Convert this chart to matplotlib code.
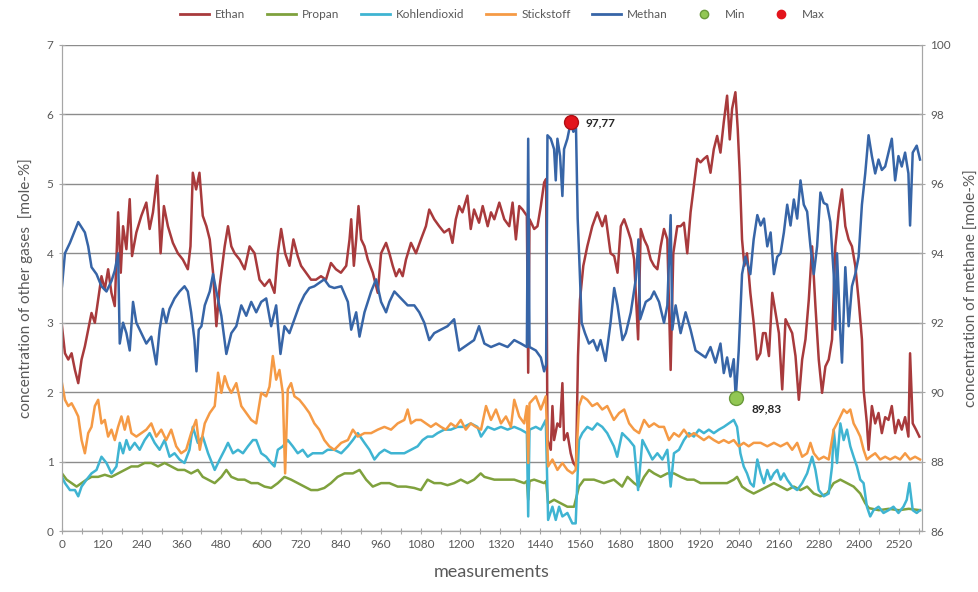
import matplotlib
matplotlib.use("Agg")
import matplotlib.pyplot as plt
from matplotlib.ticker import MultipleLocator, FuncFormatter
from matplotlib.lines import Line2D

plt.rcParams["font.family"] = ["Lato", "DejaVu Sans"]

methan_x = [0, 9, 24, 49, 69, 79, 89, 104, 119, 134, 149, 159, 169, 174, 184, 194, 204, 214, 224, 239,
            254, 269, 284, 294, 304, 314, 324, 339, 354, 369, 379, 389, 399, 405, 412, 420, 430, 445, 455, 465,
            480, 495, 510, 525, 540, 555, 570, 585, 600, 615, 630, 645, 658, 670, 685, 700, 715, 730, 745, 760,
            775, 790, 805, 820, 841, 861, 871, 886, 896, 911, 931, 946, 961, 976, 986, 1001, 1021, 1041, 1061, 1076,
            1091, 1106, 1121, 1141, 1161, 1181, 1196, 1211, 1226, 1241, 1256, 1272, 1292, 1317, 1342, 1362, 1382, 1400, 1404, 1408,
            1427, 1442, 1452, 1458, 1462, 1472, 1482, 1487, 1492, 1500, 1507, 1512, 1522, 1532, 1540, 1548, 1553, 1558, 1565, 1575,
            1587, 1600, 1612, 1622, 1637, 1652, 1663, 1673, 1688, 1698, 1713, 1728, 1736, 1741, 1758, 1773, 1783, 1798, 1813, 1823,
            1833, 1838, 1848, 1863, 1878, 1893, 1908, 1923, 1938, 1953, 1968, 1983, 1993, 2003, 2013, 2023, 2029, 2038, 2048, 2058,
            2073, 2083, 2094, 2104, 2114, 2124, 2134, 2144, 2154, 2164, 2174, 2184, 2194, 2204, 2214, 2224, 2234, 2244, 2254, 2264,
            2274, 2284, 2294, 2304, 2314, 2324, 2329, 2334, 2344, 2349, 2359, 2369, 2379, 2389, 2399, 2409, 2419, 2429, 2439, 2449,
            2459, 2469, 2479, 2489, 2499, 2509, 2519, 2529, 2539, 2549, 2554, 2562, 2574, 2584]
methan = [93.05, 94.0, 94.3, 94.9, 94.6, 94.2, 93.6, 93.4, 93.05, 92.9, 93.2, 93.5, 94.0, 91.4, 92.0, 91.7, 91.2, 92.6, 92.0, 91.7,
          91.4, 91.6, 90.8, 91.8, 92.4, 92.0, 92.4, 92.7, 92.9, 93.05, 92.9, 92.3, 91.5, 90.6, 91.8, 91.9, 92.5, 92.9, 93.4, 92.9,
          92.2, 91.1, 91.7, 91.9, 92.5, 92.2, 92.6, 92.3, 92.6, 92.7, 91.9, 92.5, 91.1, 91.9, 91.7, 92.1, 92.5, 92.8, 93.0, 93.05,
          93.15, 93.25, 93.05, 93.0, 93.05, 92.6, 91.8, 92.3, 91.6, 92.3, 92.9, 93.25, 92.6, 92.3, 92.6, 92.9, 92.7, 92.5, 92.5, 92.3,
          92.0, 91.5, 91.7, 91.8, 91.9, 92.1, 91.2, 91.3, 91.4, 91.5, 91.9, 91.4, 91.3, 91.4, 91.3, 91.5, 91.4, 91.3, 97.3, 91.3,
          91.2, 91.0, 90.6, 90.8, 97.4, 97.3, 97.0, 96.1, 97.3, 96.8, 95.65, 97.0, 97.3, 97.77, 97.5, 97.6, 95.0, 93.8, 92.0, 91.7,
          91.4, 91.5, 91.2, 91.5, 90.9, 92.0, 93.0, 92.5, 91.5, 91.7, 92.3, 93.25, 94.4, 92.1, 92.6, 92.7, 92.9, 92.6, 92.0, 92.5,
          95.1, 91.8, 92.5, 91.7, 92.3, 91.8, 91.2, 91.1, 91.0, 91.3, 90.85, 91.4, 90.55, 91.0, 90.45, 90.95, 89.83, 91.2, 93.4, 93.9,
          93.4, 94.4, 95.1, 94.8, 95.0, 94.2, 94.6, 93.4, 93.9, 94.0, 94.6, 95.4, 94.8, 95.55, 95.0, 96.1, 95.4, 95.2, 94.2, 93.4,
          94.2, 95.75, 95.45, 95.4, 94.9, 93.4, 91.8, 94.0, 91.7, 90.85, 93.6, 91.9, 93.05, 93.4, 93.9, 95.4, 96.3, 97.4, 96.8, 96.3,
          96.7, 96.4, 96.5, 96.9, 97.3, 96.1, 96.8, 96.5, 96.9, 96.3, 94.8, 96.9, 97.1, 96.7]

ethan_x = [0, 9, 19, 29, 39, 49, 59, 69, 79, 89, 99, 109, 119, 129, 139, 149, 159, 169, 177, 184,
           194, 204, 211, 224, 239, 254, 264, 274, 287, 297, 307, 319, 334, 349, 364, 379, 387, 394, 404, 414,
           424, 435, 445, 455, 465, 475, 490, 500, 510, 520, 535, 550, 565, 580, 595, 610, 625, 640, 650, 660,
           672, 685, 697, 710, 720, 735, 750, 765, 780, 795, 810, 825, 840, 856, 866, 871, 879, 886, 893, 901,
           911, 921, 936, 951, 961, 976, 986, 996, 1006, 1016, 1026, 1036, 1051, 1066, 1081, 1096, 1106, 1121, 1136, 1151,
           1166, 1176, 1186, 1196, 1206, 1221, 1231, 1241, 1256, 1267, 1282, 1292, 1302, 1317, 1332, 1347, 1357, 1367, 1377, 1387,
           1400, 1404, 1408, 1422, 1432, 1442, 1452, 1458, 1462, 1472, 1477, 1482, 1492, 1500, 1507, 1512, 1522, 1532, 1540, 1548,
           1554, 1560, 1570, 1582, 1597, 1612, 1627, 1637, 1652, 1663, 1673, 1683, 1693, 1703, 1713, 1723, 1735, 1743, 1753, 1763,
           1773, 1783, 1793, 1803, 1813, 1823, 1833, 1841, 1853, 1863, 1873, 1883, 1893, 1903, 1913, 1923, 1933, 1943, 1953, 1963,
           1973, 1983, 1993, 2003, 2011, 2018, 2028, 2035, 2041, 2048, 2055, 2063, 2073, 2083, 2093, 2103, 2111, 2119, 2129, 2139,
           2149, 2159, 2169, 2179, 2189, 2199, 2209, 2219, 2229, 2239, 2249, 2259, 2269, 2279, 2289, 2299, 2309, 2319, 2329, 2339,
           2349, 2359, 2369, 2379, 2389, 2399, 2409, 2414, 2424, 2429, 2439, 2449, 2459, 2469, 2479, 2489, 2499, 2509, 2519, 2529,
           2539, 2549, 2554, 2562, 2572, 2582]
ethan = [2.95, 2.56, 2.47, 2.56, 2.32, 2.13, 2.47, 2.66, 2.9, 3.14, 3.0, 3.33, 3.67, 3.48, 3.77, 3.43, 3.24, 4.59, 3.72, 4.39,
         4.06, 4.78, 3.96, 4.3, 4.54, 4.73, 4.35, 4.59, 5.12, 4.0, 4.68, 4.39, 4.15, 4.0, 3.91, 3.77, 4.1, 5.16, 4.92, 5.16,
         4.54, 4.39, 4.2, 3.72, 2.95, 3.53, 4.1, 4.39, 4.1, 4.0, 3.91, 3.77, 4.1, 4.0, 3.62, 3.53, 3.62, 3.43, 4.0, 4.35,
         4.0, 3.82, 4.2, 3.96, 3.82, 3.72, 3.62, 3.62, 3.67, 3.62, 3.86, 3.77, 3.72, 3.82, 4.2, 4.49, 3.82, 4.2, 4.68, 4.2,
         4.1, 3.91, 3.72, 3.43, 4.0, 4.15, 4.0, 3.82, 3.67, 3.77, 3.67, 3.91, 4.15, 4.0, 4.2, 4.39, 4.63, 4.49, 4.39, 4.3,
         4.35, 4.15, 4.49, 4.68, 4.59, 4.83, 4.35, 4.63, 4.44, 4.68, 4.39, 4.59, 4.49, 4.73, 4.49, 4.39, 4.73, 4.2, 4.68, 4.63,
         4.54, 2.28, 4.49, 4.35, 4.39, 4.68, 5.02, 5.07, 1.31, 1.17, 1.8, 1.31, 1.55, 1.5, 2.13, 1.31, 1.41, 1.12, 0.98, 0.93,
         2.52, 3.33, 3.82, 4.1, 4.39, 4.59, 4.39, 4.54, 4.0, 3.96, 3.72, 4.39, 4.49, 4.35, 4.2, 3.91, 2.76, 4.35, 4.2, 4.1,
         3.91, 3.82, 3.77, 4.1, 4.35, 4.2, 2.32, 4.0, 4.39, 4.39, 4.44, 4.0, 4.59, 4.97, 5.36, 5.31, 5.36, 5.4, 5.16, 5.5,
         5.69, 5.45, 5.89, 6.27, 5.64, 6.08, 6.32, 5.79, 5.16, 4.2, 3.82, 4.0, 3.43, 3.0, 2.47, 2.56, 2.85, 2.85, 2.52, 3.43,
         3.14, 2.85, 2.04, 3.05, 2.95, 2.85, 2.52, 1.89, 2.47, 2.76, 3.33, 4.1, 3.24, 2.47, 1.99, 2.37, 2.47, 2.76, 4.1, 4.59,
         4.92, 4.39, 4.2, 4.1, 3.82, 3.33, 2.76, 2.04, 1.55, 1.17, 1.8, 1.55, 1.7, 1.41, 1.64, 1.6, 1.8, 1.41, 1.6, 1.46,
         1.64, 1.36, 2.56, 1.55, 1.46, 1.36]

propan_x = [0, 14, 29, 44, 59, 74, 89, 109, 129, 149, 169, 189, 209, 229, 249, 269, 289, 309, 329, 349,
            369, 389, 409, 424, 440, 460, 480, 495, 510, 530, 550, 570, 590, 610, 630, 650, 670, 690, 710, 730,
            750, 770, 790, 810, 830, 851, 876, 896, 916, 936, 961, 986, 1011, 1036, 1061, 1081, 1101, 1121, 1141, 1161,
            1181, 1201, 1221, 1241, 1261, 1272, 1302, 1332, 1362, 1392, 1400, 1404, 1408, 1422, 1452, 1458, 1464, 1482, 1502, 1522,
            1542, 1557, 1572, 1602, 1632, 1662, 1687, 1703, 1723, 1738, 1753, 1768, 1783, 1803, 1823, 1843, 1863, 1883, 1903, 1923,
            1943, 1963, 1983, 2003, 2023, 2033, 2048, 2063, 2083, 2104, 2124, 2144, 2164, 2184, 2204, 2224, 2244, 2264, 2284, 2304,
            2324, 2344, 2364, 2384, 2404, 2419, 2430, 2460, 2490, 2520, 2550, 2584]
propan = [0.83, 0.74, 0.69, 0.64, 0.69, 0.74, 0.78, 0.78, 0.81, 0.78, 0.83, 0.88, 0.93, 0.93, 0.98, 0.98, 0.93, 0.98, 0.93, 0.88,
          0.88, 0.83, 0.88, 0.78, 0.74, 0.69, 0.78, 0.88, 0.78, 0.74, 0.74, 0.69, 0.69, 0.64, 0.62, 0.69, 0.78, 0.74, 0.69, 0.64,
          0.59, 0.59, 0.62, 0.69, 0.78, 0.83, 0.83, 0.88, 0.74, 0.64, 0.69, 0.69, 0.64, 0.64, 0.62, 0.59, 0.74, 0.69, 0.69, 0.66,
          0.69, 0.74, 0.69, 0.74, 0.83, 0.78, 0.74, 0.74, 0.74, 0.69, 0.72, 0.45, 0.72, 0.74, 0.69, 0.72, 0.4, 0.45, 0.4, 0.35,
          0.35, 0.64, 0.74, 0.74, 0.69, 0.74, 0.64, 0.78, 0.69, 0.64, 0.78, 0.88, 0.83, 0.78, 0.83, 0.83, 0.78, 0.74, 0.74, 0.69,
          0.69, 0.69, 0.69, 0.69, 0.74, 0.78, 0.64, 0.59, 0.54, 0.59, 0.64, 0.69, 0.64, 0.59, 0.64, 0.59, 0.64, 0.54, 0.5, 0.54,
          0.69, 0.74, 0.69, 0.64, 0.54, 0.4, 0.33, 0.3, 0.32, 0.3, 0.32, 0.3]

kohlendioxid_x = [0, 9, 24, 39, 49, 59, 74, 89, 104, 119, 134, 149, 164, 174, 184, 194, 204, 219, 234, 249,
                  264, 279, 294, 309, 324, 339, 354, 369, 384, 394, 409, 424, 440, 460, 475, 490, 500, 515, 530, 545,
                  560, 575, 585, 600, 615, 630, 640, 650, 665, 680, 695, 710, 725, 740, 755, 770, 785, 800, 820, 841,
                  861, 876, 891, 911, 926, 941, 956, 971, 991, 1011, 1031, 1051, 1071, 1086, 1101, 1116, 1131, 1151, 1171, 1191,
                  1211, 1231, 1251, 1262, 1282, 1302, 1322, 1342, 1362, 1382, 1400, 1404, 1408, 1427, 1442, 1457, 1464, 1477, 1487, 1497,
                  1507, 1522, 1537, 1547, 1557, 1567, 1582, 1597, 1612, 1627, 1642, 1662, 1672, 1687, 1708, 1723, 1735, 1748, 1763, 1778,
                  1793, 1808, 1823, 1833, 1843, 1858, 1873, 1888, 1903, 1918, 1933, 1948, 1963, 1978, 1993, 2008, 2023, 2033, 2043, 2053,
                  2063, 2073, 2083, 2094, 2104, 2114, 2124, 2134, 2144, 2154, 2164, 2174, 2184, 2199, 2214, 2229, 2244, 2259, 2269, 2279,
                  2294, 2309, 2319, 2324, 2334, 2344, 2354, 2364, 2374, 2384, 2394, 2404, 2414, 2424, 2434, 2444, 2459, 2474, 2489, 2504,
                  2519, 2534, 2544, 2552, 2562, 2574, 2584]
kohlendioxid = [0.78, 0.69, 0.59, 0.59, 0.5, 0.64, 0.74, 0.83, 0.88, 1.07, 0.98, 0.83, 0.93, 1.27, 1.12, 1.31, 1.17, 1.27, 1.17, 1.31,
                1.41, 1.27, 1.17, 1.31, 1.07, 1.12, 1.03, 0.98, 1.17, 1.5, 1.27, 1.36, 1.12, 0.88, 1.03, 1.17, 1.27, 1.12, 1.17, 1.12,
                1.22, 1.31, 1.31, 1.12, 1.07, 0.98, 0.93, 1.17, 1.22, 1.31, 1.22, 1.12, 1.17, 1.07, 1.12, 1.12, 1.12, 1.17, 1.17, 1.12,
                1.22, 1.31, 1.41, 1.27, 1.17, 1.03, 1.12, 1.17, 1.12, 1.12, 1.12, 1.17, 1.22, 1.31, 1.36, 1.36, 1.41, 1.46, 1.46, 1.5,
                1.5, 1.55, 1.5, 1.36, 1.5, 1.46, 1.5, 1.46, 1.5, 1.46, 1.41, 0.21, 1.46, 1.5, 1.46, 1.6, 0.16, 0.35, 0.16, 0.35,
                0.21, 0.26, 0.11, 0.11, 1.31, 1.41, 1.5, 1.46, 1.55, 1.5, 1.41, 1.22, 1.07, 1.41, 1.31, 1.22, 0.59, 1.31, 1.17, 1.03,
                1.12, 1.03, 1.17, 0.64, 1.12, 1.17, 1.31, 1.41, 1.36, 1.46, 1.41, 1.46, 1.41, 1.46, 1.5, 1.55, 1.6, 1.5, 1.12, 0.93,
                0.83, 0.69, 0.64, 1.03, 0.83, 0.69, 0.88, 0.74, 0.83, 0.88, 0.74, 0.83, 0.74, 0.64, 0.59, 0.69, 0.83, 1.07, 0.88, 0.59,
                0.5, 0.54, 0.93, 1.46, 0.98, 1.55, 1.31, 1.46, 1.22, 1.07, 0.93, 0.74, 0.69, 0.35, 0.21, 0.3, 0.35, 0.26, 0.3, 0.35,
                0.26, 0.35, 0.45, 0.69, 0.3, 0.26, 0.3]

stickstoff_x = [0, 9, 19, 29, 39, 49, 59, 69, 79, 89, 99, 109, 119, 129, 139, 149, 159, 169, 179, 189,
                199, 209, 224, 239, 254, 269, 284, 299, 314, 329, 344, 359, 374, 389, 404, 415, 430, 445, 460, 470,
                480, 490, 500, 510, 525, 540, 555, 570, 585, 600, 615, 625, 635, 645, 655, 665, 672, 680, 690, 700,
                715, 730, 745, 760, 775, 790, 805, 820, 841, 861, 876, 891, 911, 931, 951, 971, 991, 1011, 1031, 1041,
                1051, 1066, 1081, 1096, 1111, 1126, 1141, 1156, 1171, 1186, 1201, 1216, 1231, 1246, 1262, 1277, 1292, 1307, 1322, 1337,
                1352, 1362, 1377, 1392, 1400, 1404, 1408, 1427, 1442, 1457, 1464, 1477, 1492, 1507, 1522, 1537, 1547, 1557, 1567, 1582,
                1597, 1612, 1627, 1642, 1662, 1678, 1693, 1708, 1723, 1738, 1753, 1768, 1783, 1798, 1813, 1828, 1843, 1858, 1873, 1888,
                1903, 1918, 1933, 1948, 1963, 1978, 1993, 2008, 2023, 2038, 2053, 2068, 2083, 2104, 2124, 2144, 2164, 2184, 2199, 2214,
                2229, 2244, 2254, 2264, 2279, 2294, 2309, 2324, 2334, 2344, 2354, 2364, 2374, 2384, 2394, 2404, 2414, 2424, 2434, 2449,
                2464, 2479, 2494, 2509, 2524, 2539, 2554, 2569, 2584]
stickstoff = [2.13, 1.89, 1.8, 1.84, 1.75, 1.65, 1.31, 1.12, 1.41, 1.5, 1.8, 1.89, 1.55, 1.6, 1.36, 1.46, 1.31, 1.5, 1.65, 1.46,
              1.65, 1.41, 1.36, 1.41, 1.46, 1.55, 1.36, 1.46, 1.31, 1.46, 1.22, 1.12, 1.17, 1.41, 1.6, 1.17, 1.55, 1.7, 1.8, 2.28,
              1.99, 2.23, 2.08, 1.99, 2.13, 1.8, 1.7, 1.6, 1.55, 1.99, 1.94, 2.08, 2.52, 2.18, 2.32, 1.99, 0.83, 2.04, 2.13, 1.94,
              1.89, 1.8, 1.7, 1.55, 1.46, 1.31, 1.22, 1.17, 1.27, 1.31, 1.46, 1.36, 1.41, 1.41, 1.46, 1.5, 1.46, 1.55, 1.6, 1.75,
              1.55, 1.6, 1.6, 1.55, 1.5, 1.55, 1.5, 1.46, 1.55, 1.5, 1.6, 1.46, 1.55, 1.5, 1.46, 1.8, 1.6, 1.75, 1.55, 1.65,
              1.5, 1.89, 1.65, 1.55, 1.8, 0.98, 1.84, 1.94, 1.75, 1.94, 0.93, 1.03, 0.88, 0.98, 0.88, 0.83, 0.88, 1.8, 1.94, 1.89,
              1.8, 1.84, 1.75, 1.8, 1.6, 1.7, 1.75, 1.55, 1.46, 1.41, 1.6, 1.5, 1.55, 1.5, 1.5, 1.31, 1.41, 1.36, 1.46, 1.36,
              1.41, 1.36, 1.31, 1.36, 1.31, 1.27, 1.31, 1.27, 1.31, 1.22, 1.27, 1.22, 1.27, 1.27, 1.22, 1.27, 1.22, 1.27, 1.17, 1.27,
              1.07, 1.12, 1.27, 1.12, 1.03, 1.07, 1.03, 1.46, 1.55, 1.65, 1.75, 1.7, 1.75, 1.55, 1.46, 1.36, 1.17, 1.03, 1.07, 1.12,
              1.03, 1.07, 1.03, 1.07, 1.03, 1.12, 1.03, 1.07, 1.03]

min_x, min_val = 2029, 89.83
max_x, max_val = 1532, 97.77

c_ethan = "#A83A3C"
c_propan = "#7FA13D"
c_co2 = "#3FB4D2"
c_n2 = "#F59A45"
c_methan = "#3765A7"
grey = "#595959"

fig = plt.figure(figsize=(9.79, 5.92), dpi=100)
ax = fig.add_axes([0.0633, 0.103, 0.8785, 0.821])
ax2 = ax.twinx()

# lines
lw = 1.8
ax.plot(ethan_x, ethan, color=c_ethan, lw=lw)
ax.plot(propan_x, propan, color=c_propan, lw=lw)
ax.plot(kohlendioxid_x, kohlendioxid, color=c_co2, lw=lw)
ax.plot(stickstoff_x, stickstoff, color=c_n2, lw=lw)
ax2.plot(methan_x, methan, color=c_methan, lw=lw)

# min / max markers with labels
ax2.plot([min_x], [min_val], "o", ms=10, color="#92C753", mec="#6A9A3A", mew=1)
ax2.plot([max_x], [max_val], "o", ms=10, color="#E3141C", mec="#B01015", mew=1)
ax2.annotate("97,77", (max_x, max_val), xytext=(11, 0), textcoords="offset points",
             va="center", ha="left", fontsize=8.5, fontweight="bold", color="#262626")
ax2.annotate("89,83", (min_x, min_val), xytext=(11, -8), textcoords="offset points",
             va="center", ha="left", fontsize=8.5, fontweight="bold", color="#262626")

ax.set_xlim(0, 2590)
ax.set_ylim(0, 7)
ax2.set_ylim(86, 100)
ax.xaxis.set_major_locator(MultipleLocator(60))
ax.xaxis.set_major_formatter(FuncFormatter(lambda v, p: f"{int(v)}" if int(v) % 120 == 0 else ""))
ax.yaxis.set_major_locator(MultipleLocator(1))
ax2.yaxis.set_major_locator(MultipleLocator(2))

ax.grid(axis="y", color="#8c8c8c", lw=1)
ax.set_axisbelow(True)
for a in (ax, ax2):
    for s in a.spines.values():
        s.set_color("#a6a6a6")
    a.spines["top"].set_visible(False)
    a.tick_params(colors=grey, labelsize=8.5, direction="inout", length=5, width=0.8)
    a.tick_params(axis="both", color="#a6a6a6")

ax.set_xlabel("measurements", fontsize=13, color=grey, labelpad=10)
ax.set_ylabel("concentration of other gases  [mole-%]", fontsize=11, color=grey, labelpad=10)
ax2.set_ylabel("concentration of methane [mole-%]", fontsize=11, color=grey, labelpad=10)

# legend on top
handles = [Line2D([], [], color=c, lw=2) for c in (c_ethan, c_propan, c_co2, c_n2, c_methan)]
handles += [Line2D([], [], ls="", marker="o", ms=6, color="#92C753", mec="#6A9A3A"),
            Line2D([], [], ls="", marker="o", ms=6, color="#E3141C")]
labels = ["Ethan", "Propan", "Kohlendioxid", "Stickstoff", "Methan", "Min", "Max"]
fig.legend(handles, labels, loc="center", bbox_to_anchor=(0.513, 0.975), ncol=7, frameon=False,
           fontsize=8.5, handlelength=2.5, columnspacing=1.8, handletextpad=0.5, labelcolor=grey)

fig.savefig("out.png", dpi=100)
